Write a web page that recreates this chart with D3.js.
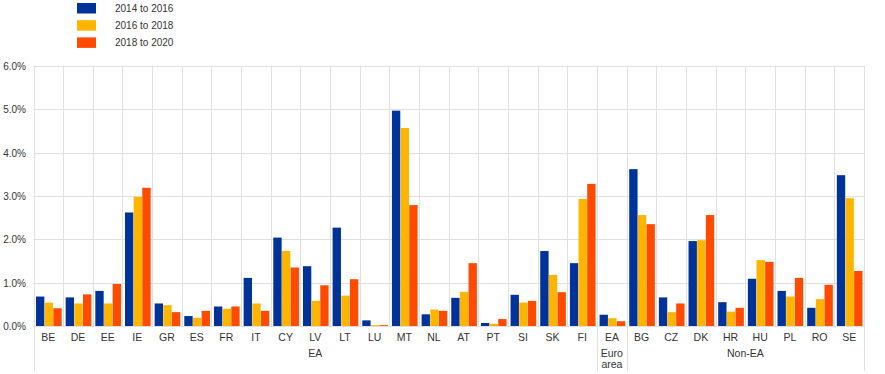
<!DOCTYPE html>
<html>
<head>
<meta charset="utf-8">
<script src="https://cdn.jsdelivr.net/npm/d3@7"></script>
<style>
  body { margin: 0; background: #fff; }
  text { font-family: "Liberation Sans", Arial, sans-serif; fill: #333; }
</style>
</head>
<body>
<div id="chart"></div>
<script>
// data
const categories = ['BE', 'DE', 'EE', 'IE', 'GR', 'ES', 'FR', 'IT', 'CY', 'LV', 'LT', 'LU', 'MT', 'NL', 'AT', 'PT', 'SI', 'SK', 'FI',
  'EA', 'BG', 'CZ', 'DK', 'HR', 'HU', 'PL', 'RO', 'SE']
const seriesNames = ['2014 to 2016', '2016 to 2018', '2018 to 2020']
const s2014 = [0.68, 0.66, 0.81, 2.62, 0.52, 0.23, 0.45, 1.11, 2.04, 1.38, 2.27, 0.13, 4.97, 0.27, 0.65, 0.07, 0.72, 1.73, 1.45,
  0.26, 3.62, 0.66, 1.96, 0.55, 1.09, 0.81, 0.42, 3.48]
const s2016 = [0.54, 0.52, 0.52, 2.98, 0.48, 0.19, 0.40, 0.52, 1.73, 0.58, 0.70, 0.02, 4.57, 0.38, 0.79, 0.05, 0.54, 1.18, 2.93,
  0.18, 2.56, 0.32, 1.98, 0.33, 1.52, 0.68, 0.62, 2.95]
const s2018 = [0.41, 0.73, 0.97, 3.19, 0.32, 0.35, 0.45, 0.35, 1.35, 0.94, 1.08, 0.02, 2.79, 0.35, 1.45, 0.16, 0.58, 0.78, 3.28,
  0.11, 2.35, 0.52, 2.56, 0.42, 1.48, 1.11, 0.95, 1.27]
const groups = [
  { label: ['EA'], from: 'BE', to: 'FI' },
  { label: ['Euro', 'area'], from: 'EA', to: 'EA' },
  { label: ['Non-EA'], from: 'BG', to: 'SE' }
]
const yTicks = [0, 1, 2, 3, 4, 5, 6]
const colors = ['#003399', '#ffb400', '#ff4b00']

let w = 885,
  h = 374,
  margin = { left: 33.5, right: 21, top: 66, bottom: 48 }

let svg = d3.select('#chart')
  .append('svg')
  .attr('width', w)
  .attr('height', h)

let x = d3.scaleBand()
  .domain(categories)
  .range([margin.left, w - margin.right])

let x1 = d3.scaleBand()
  .domain([0, 1, 2])
  .range([2.5, x.bandwidth() - 1.2])

let y = d3.scaleLinear()
  .domain([0, 6])
  .range([h - margin.bottom, margin.top])

const grid = '#e0e0e0'

// horizontal gridlines
svg.append('g')
  .selectAll('line')
  .data(yTicks)
  .enter()
  .append('line')
  .attr('x1', margin.left)
  .attr('x2', w - margin.right)
  .attr('y1', d => Math.round(y(d)) + 0.5)
  .attr('y2', d => Math.round(y(d)) + 0.5)
  .attr('stroke', grid)
  .attr('stroke-width', 1)

// vertical separators between categories
svg.append('g')
  .selectAll('line')
  .data(categories.slice(1))
  .enter()
  .append('line')
  .attr('x1', d => Math.round(x(d)) + 0.5)
  .attr('x2', d => Math.round(x(d)) + 0.5)
  .attr('y1', y(6))
  .attr('y2', y(0))
  .attr('stroke', grid)

// group separators, extending below the axis
let groupEdges = [x('BE'), x('EA'), x('BG'), w - margin.right]
svg.append('g')
  .selectAll('line')
  .data(groupEdges)
  .enter()
  .append('line')
  .attr('x1', d => Math.round(d) + 0.5)
  .attr('x2', d => Math.round(d) + 0.5)
  .attr('y1', y(6))
  .attr('y2', 371)
  .attr('stroke', grid)

// y labels
svg.append('g')
  .selectAll('text')
  .data(yTicks)
  .enter()
  .append('text')
  .attr('x', 26)
  .attr('y', d => y(d) + 4)
  .attr('text-anchor', 'end')
  .style('font-size', '10px')
  .text(d => d3.format('.1f')(d) + '%')

// bars
let series = [s2014, s2016, s2018]
series.forEach((vals, si) => {
  svg.append('g')
    .selectAll('rect')
    .data(vals)
    .enter()
    .append('rect')
    .attr('x', (d, i) => x(categories[i]) + x1(si))
    .attr('width', x1.bandwidth() - 0.3)
    .attr('y', d => y(d))
    .attr('height', d => y(0) - y(d))
    .attr('fill', colors[si])
})

// category labels
svg.append('g')
  .selectAll('text')
  .data(categories)
  .enter()
  .append('text')
  .attr('x', d => x(d) + x.bandwidth() / 2)
  .attr('y', 341)
  .attr('text-anchor', 'middle')
  .style('font-size', '10.5px')
  .text(d => d)

// group labels
groups.forEach(g => {
  let cx = (x(g.from) + x(g.to) + x.bandwidth()) / 2
  g.label.forEach((line, li) => {
    svg.append('text')
      .attr('x', cx)
      .attr('y', 357 + li * 11)
      .attr('text-anchor', 'middle')
      .style('font-size', '10.5px')
      .text(line)
  })
})

// legend
let legend = svg.append('g')
  .selectAll('g')
  .data(seriesNames)
  .enter()
  .append('g')
  .attr('transform', (d, i) => `translate(77,${3 + i * 17.2})`)

legend.append('rect')
  .attr('width', 19)
  .attr('height', 10.5)
  .attr('fill', (d, i) => colors[i])

legend.append('text')
  .attr('x', 38)
  .attr('y', 9)
  .style('font-size', '10px')
  .text(d => d)
</script>
</body>
</html>
